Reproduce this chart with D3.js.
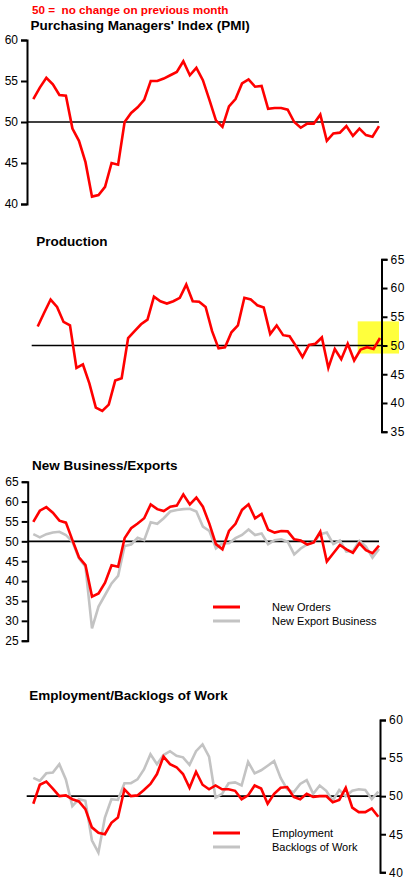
<!DOCTYPE html>
<html>
<head>
<meta charset="utf-8">
<script src="https://cdn.jsdelivr.net/npm/d3@7"></script>
<style>
  body { margin: 0; background: #fff; }
  svg text { font-family: "Liberation Sans", Arial, sans-serif; }
</style>
</head>
<body>
<div id="chart"></div>
<script>
// months (index only, 54 monthly readings)
const months = d3.range(54);

const pmi = [52.8,54.2,55.4,54.6,53.3,53.2,49.2,47.7,45.1,40.9, 41.1,42.1,45.0,44.8,50.0,51.1,51.8,52.7,55.0,55.0,
  55.3,55.7,56.1,57.4,55.7,56.6,55.1,52.7,50.2,49.4, 51.9,52.8,54.7,55.2,54.3,54.4,51.6,51.7,51.7,51.5,
  50.0,49.3,49.8,49.8,50.9,47.7,48.6,48.7,49.5,48.3, 49.2,48.4,48.2,49.5];

const production = [53.3,55.7,58.0,56.7,54.1,53.5,46.1,46.7,43.4,39.2, 38.6,39.7,43.9,44.3,51.3,52.5,53.7,54.5,58.5,57.7,
  57.3,57.7,58.3,60.6,57.7,57.6,56.7,52.5,49.5,49.7, 52.3,53.5,58.3,58.0,57.0,56.6,52.0,53.5,51.8,51.6,
  49.9,48.0,50.1,50.3,51.4,46.1,49.4,47.6,50.3,47.4, 49.3,49.7,49.4,51.3];

const newOrders = [54.9,57.7,58.6,57.2,55.2,54.7,50.3,46.0,44.0,36.1, 36.9,39.6,44.0,43.6,50.8,53.3,54.5,55.8,59.3,58.1,
  57.6,58.7,59.0,61.8,59.3,61.0,58.7,54.4,49.3,48.0, 52.6,54.4,57.9,59.3,55.8,56.9,52.9,52.2,52.6,52.5,
  50.5,50.2,49.2,49.7,52.4,44.9,47.0,49.1,48.0,47.1, 49.5,47.8,47.0,48.9];

const newExport = [51.8,51.0,51.8,52.2,52.4,51.6,49.9,45.7,43.6,28.1, 33.6,36.5,39.4,41.3,48.8,49.2,50.9,50.3,54.8,54.4,
  55.8,57.5,57.9,58.1,58.2,57.5,53.7,52.6,48.2,49.5, 49.5,50.8,51.6,53.0,51.6,52.0,49.3,50.3,50.5,49.9,
  46.7,48.2,49.2,49.8,51.8,52.2,49.3,50.2,47.4,47.6, 50.1,48.7,45.9,48.1];

const employment = [49.0,51.5,51.9,51.0,50.0,50.1,49.6,49.3,48.3,45.9, 45.2,45.0,46.5,47.2,50.9,50.0,50.1,50.8,51.6,52.9,
  55.2,54.2,53.8,52.9,51.1,53.2,51.5,50.9,51.4,50.9, 50.9,50.7,49.6,50.1,51.4,51.0,49.0,50.3,51.1,51.2,
  49.9,49.6,50.3,49.9,50.0,50.0,49.2,49.5,51.1,48.5, 47.9,47.9,48.4,47.3];

const backlogs = [52.4,52.0,53.0,53.1,54.2,52.2,48.7,49.6,49.4,44.2, 42.6,47.2,49.6,49.5,51.7,51.7,52.2,53.5,55.5,54.2,
  55.4,55.9,55.3,55.1,54.1,55.9,56.8,55.2,49.8,50.3, 51.7,51.8,51.4,54.5,53.0,53.4,54.0,54.6,52.4,50.9,
  50.5,51.6,52.1,50.3,51.4,50.7,49.4,50.8,50.0,50.7, 50.9,50.8,49.6,50.6];

const titles = ["Purchasing Managers' Index (PMI)", "Production", "New Business/Exports", "Employment/Backlogs of Work"];
const legend3 = ["New Orders", "New Export Business"];
const legend4 = ["Employment", "Backlogs of Work"];

const RED = "#ff0000", GREY = "#c3c3c3";

const svg = d3.select("#chart").append("svg")
    .attr("width", 408)
    .attr("height", 880);

svg.append("text")
    .attr("x", 32).attr("y", 13.5)
    .attr("fill", RED)
    .attr("font-size", "11.7px")
    .attr("font-weight", "bold")
    .attr("xml:space", "preserve")
    .text("50 =  no change on previous month");

function panel(cfg) {
    const g = svg.append("g");

    const x = d3.scaleLinear().domain([0, months.length - 1]).range(cfg.xr);
    const y = d3.scaleLinear().domain(cfg.dom).range(cfg.yr);

    g.append("text")
        .attr("x", cfg.tx).attr("y", cfg.ty)
        .attr("font-size", "13.5px")
        .attr("font-weight", "bold")
        .text(cfg.title);

    // highlight box (production only)
    if (cfg.box) {
        g.append("rect")
            .attr("x", cfg.box[0]).attr("y", y(cfg.box[1]))
            .attr("width", cfg.box[2] - cfg.box[0])
            .attr("height", y(cfg.box[3]) - y(cfg.box[1]))
            .attr("fill", "#ffff3c");
    }

    const axis = (cfg.right ? d3.axisRight(y) : d3.axisLeft(y))
        .tickValues(d3.range(cfg.dom[0], cfg.dom[1] + 1, 5))
        .tickSize(6).tickSizeOuter(6).tickPadding(3);

    const ax = g.append("g")
        .attr("transform", "translate(" + cfg.ax + ",0)")
        .call(axis);
    ax.select(".domain").attr("stroke", "#000").attr("stroke-width", 2);
    ax.selectAll(".tick line").attr("stroke", "#000").attr("stroke-width", 2);
    ax.selectAll(".tick text")
        .attr("font-family", "Liberation Sans, Arial, sans-serif")
        .attr("font-size", "12px")
        .attr("fill", "#000");
    if (cfg.right) ax.selectAll(".tick text").attr("letter-spacing", "0.6px");

    // 50 = no change line
    g.append("line")
        .attr("x1", cfg.lx[0]).attr("x2", cfg.lx[1])
        .attr("y1", y(50)).attr("y2", y(50))
        .attr("stroke", "#000").attr("stroke-width", 1.6);

    const line = d3.line()
        .x((d, i) => x(i))
        .y(d => y(d));

    cfg.series.forEach(s => {
        g.append("path")
            .datum(s.values)
            .attr("fill", "none")
            .attr("stroke", s.color)
            .attr("stroke-width", 2.6)
            .attr("stroke-linejoin", "miter")
            .attr("d", line);
    });

    if (cfg.legend) {
        cfg.legend.forEach((name, i) => {
            const ly = cfg.legendY + i * 14;
            g.append("line")
                .attr("x1", 213).attr("x2", 240)
                .attr("y1", ly).attr("y2", ly)
                .attr("stroke", cfg.series[cfg.series.length - 1 - i].color)
                .attr("stroke-width", 3);
            g.append("text")
                .attr("x", 272).attr("y", ly + 4)
                .attr("font-size", "11px")
                .text(name);
        });
    }
}

panel({
    title: titles[0], tx: 30.5, ty: 29.5,
    dom: [40, 60], yr: [204, 40],
    xr: [33.3, 379], ax: 27, lx: [27, 379],
    series: [{values: pmi, color: RED}]
});

panel({
    title: titles[1], tx: 36.3, ty: 246,
    dom: [35, 65], yr: [431.7, 259.3],
    xr: [37.7, 380], ax: 381.5, lx: [31.7, 381.5], right: true,
    box: [357.7, 54.2, 399, 48.6],
    series: [{values: production, color: RED}]
});

panel({
    title: titles[2], tx: 32, ty: 470,
    dom: [25, 65], yr: [640.7, 481.7],
    xr: [33.3, 379], ax: 27.7, lx: [27.7, 379],
    series: [{values: newExport, color: GREY}, {values: newOrders, color: RED}],
    legend: legend3, legendY: 607
});

panel({
    title: titles[3], tx: 29.3, ty: 700,
    dom: [40, 60], yr: [872.3, 720],
    xr: [33.3, 378.3], ax: 380, lx: [26.7, 380], right: true,
    series: [{values: backlogs, color: GREY}, {values: employment, color: RED}],
    legend: legend4, legendY: 833
});
</script>
</body>
</html>
